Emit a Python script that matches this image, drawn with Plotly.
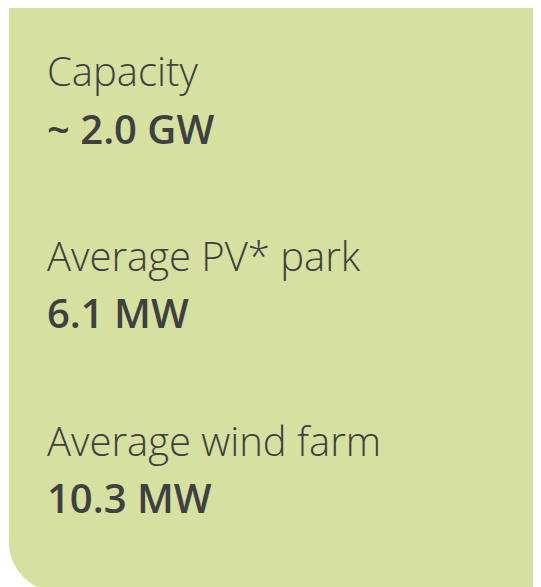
import plotly.graph_objects as go

labels = ["Capacity", "Average PV* park", "Average wind farm"]
values = ["~ 2.0 GW", "6.1 MW", "10.3 MW"]

W, H = 541, 587
OFF = 8  # page body margin offset
bg = "#d6e0a0"
txt = "#404040"

fig = go.Figure()
fig.add_trace(go.Scatter(x=[0], y=[0], mode="markers", marker=dict(opacity=0), hoverinfo="skip", showlegend=False))

# panel with rounded bottom-left corner (screen coordinates)
r = 50
x0, y0, x1, y1 = 9, 7, 543, 592
k = 0.5523 * r
path = (f"M {x0},{y0} L {x1},{y0} L {x1},{y1} L {x0+r},{y1} "
        f"C {x0+r-k},{y1} {x0},{y1-r+k} {x0},{y1-r} Z")
fig.add_shape(type="path", path=path, xref="x", yref="y", fillcolor=bg, line=dict(width=0), layer="below")

label_mid = [70, 255, 440]
value_mid = [128, 312, 497]
for i, (lab, val) in enumerate(zip(labels, values)):
    fig.add_annotation(x=45, y=label_mid[i], xref="x", yref="y", text=lab, showarrow=False,
                       xanchor="left", yanchor="middle",
                       font=dict(family="Open Sans", size=40, color=txt, weight=300))
    fig.add_annotation(x=45, y=value_mid[i], xref="x", yref="y", text=val, showarrow=False,
                       xanchor="left", yanchor="middle",
                       font=dict(family="Open Sans", size=40, color=txt, weight=600))

fig.update_layout(width=W, height=H, margin=dict(l=0, r=0, t=0, b=0),
                  paper_bgcolor="white", plot_bgcolor="white",
                  xaxis=dict(range=[OFF, W + OFF], visible=False, fixedrange=True),
                  yaxis=dict(range=[H + OFF, OFF], visible=False, fixedrange=True),
                  showlegend=False)
fig.write_html("out.html")
